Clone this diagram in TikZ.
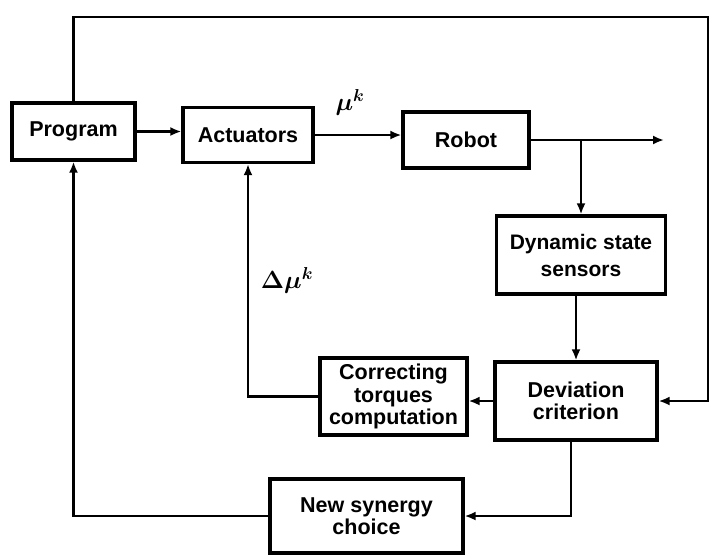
\documentclass[tikz,border=0pt]{standalone}
\usepackage{fontspec}
\setmainfont{Liberation Sans}
\usetikzlibrary{arrows.meta,calc}
\begin{document}
\begin{tikzpicture}[x=1pt,y=-1pt,
  blk/.style={draw,line width=3.2pt,align=center,inner sep=0pt,
    font=\fontsize{21.5}{22.5}\selectfont\bfseries},
  conn/.style={line width=2.4pt},
  arr/.style={conn,-{Latex[length=11pt,width=9pt]}},
  lbl/.style={font=\fontsize{26}{28}\selectfont\boldmath}]
\fill[white] (0,0) rectangle (711,558);
\useasboundingbox (0,0) rectangle (711,558);
\node[blk,minimum width=123,minimum height=57] (prog) at (73.5,131.5) {Program};
\node[blk,minimum width=130,minimum height=55] (act) at (248,135) {Actuators};
\node[blk,minimum width=126,minimum height=56] (robot) at (466,140) {Robot};
\node[blk,minimum width=169,minimum height=78,font=\fontsize{21}{27}\selectfont\bfseries] (dyn) at (581,255) {Dynamic state\\sensors};
\node[blk,minimum width=162,minimum height=78] (dev) at (576,401) {Deviation\\criterion};
\node[blk,minimum width=147,minimum height=77] (corr) at (393.5,396.5) {Correcting\\torques\\computation};
\node[blk,minimum width=193,minimum height=74] (news) at (366.5,516) {New synergy\\choice};
\coordinate (out) at (664,140);
\coordinate (tl) at (73.5,17);
\coordinate (tr) at (708,17);
\node[lbl] (mu) at (350,102) {$\mu^{k}$};
\node[lbl] (dmu) at (287,280) {$\Delta\mu^{k}$};
\draw[arr] (prog.east) -- (prog.east -| act.west);
\draw[arr] (act.east) -- (act.east -| robot.west);
\draw[arr] (robot.east) -- (out);
\draw[arr] (robot.east -| dyn.north) -- (dyn.north);
\draw[arr] (dyn.south -| dev.north) -- (dev.north);
\draw[arr] (dev.west) -- (dev.west -| corr.east);
\draw[arr] (corr.west) -| (act.south);
\draw[arr] ([xshift=-5pt]dev.south) |- (news.east);
\draw[arr] (news.west) -| (prog.south);
\draw[arr] (prog.north) -- (tl) -- (tr) |- (dev.east);
\end{tikzpicture}
\end{document}
